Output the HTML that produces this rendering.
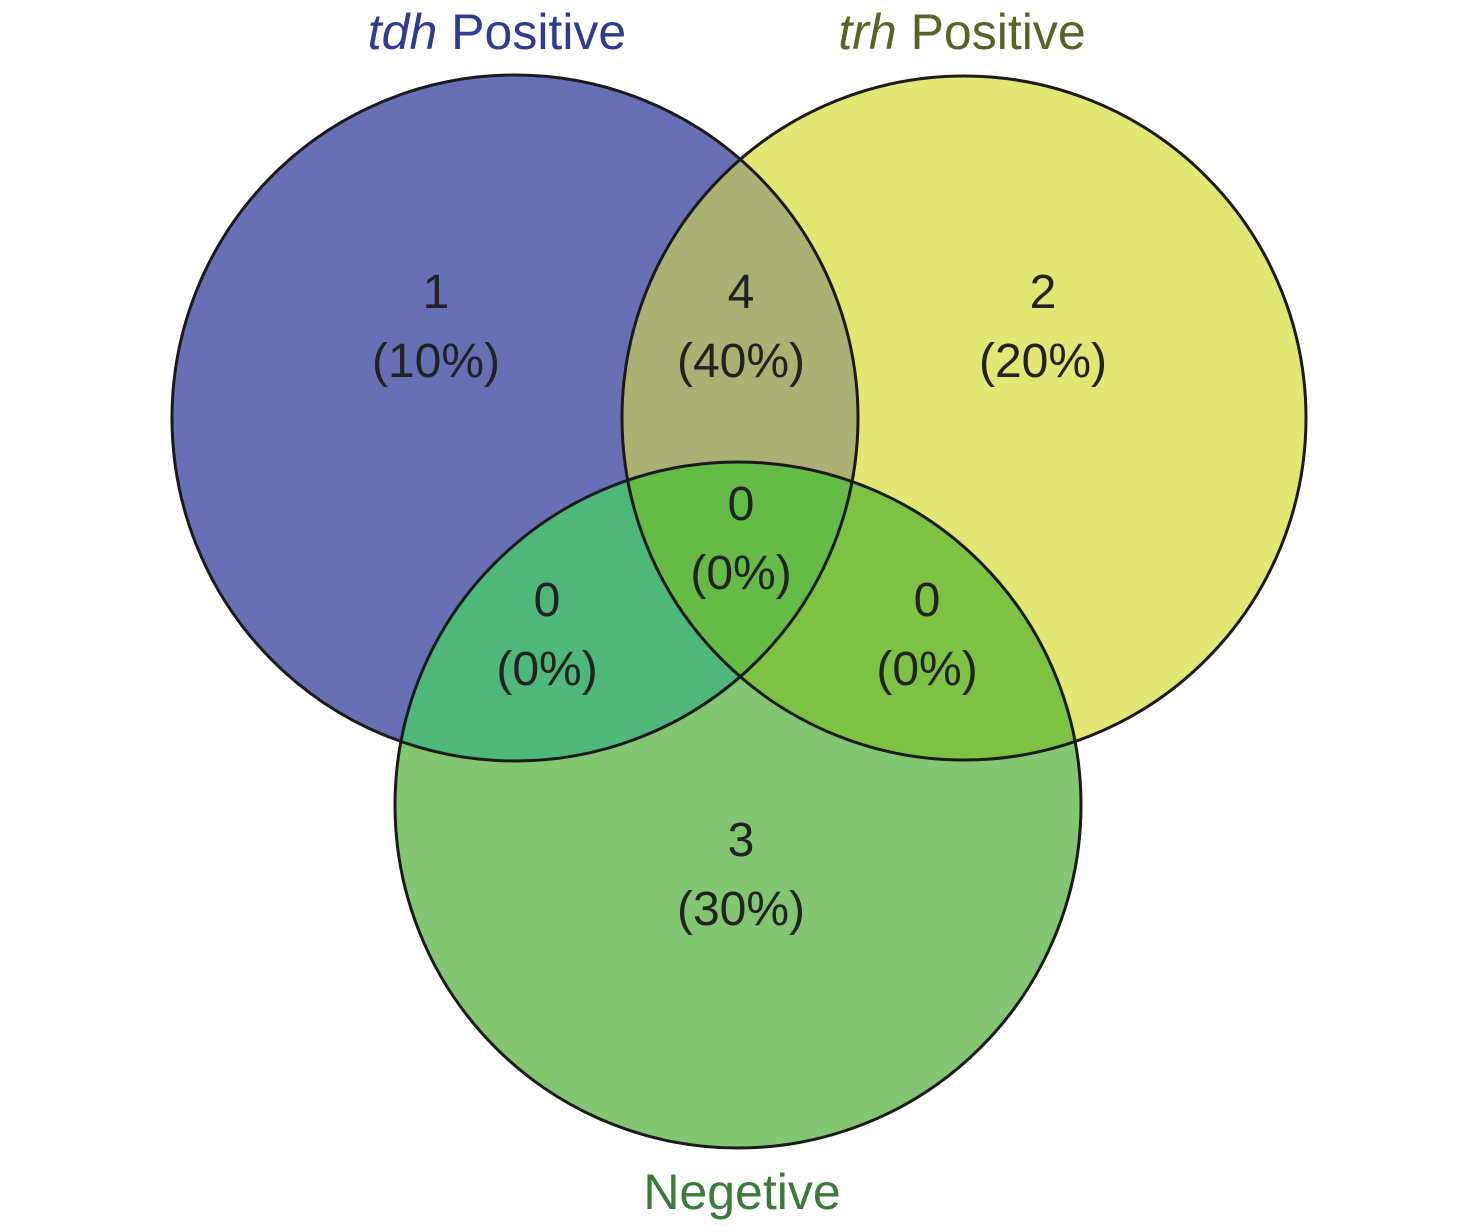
<!DOCTYPE html>
<html><head><style>html,body{margin:0;padding:0;background:#fff;}svg{display:block}</style></head>
<body>
<svg width="1476" height="1232" viewBox="0 0 1476 1232" xmlns="http://www.w3.org/2000/svg">
<defs>
<clipPath id="cb"><circle cx="515" cy="418" r="343"/></clipPath>
<clipPath id="cy"><circle cx="964" cy="418" r="342"/></clipPath>
<clipPath id="cg"><circle cx="738" cy="805" r="343"/></clipPath>
</defs>
<circle cx="515" cy="418" r="343" fill="#6770b5"/>
<circle cx="964" cy="418" r="342" fill="#e2e673"/>
<circle cx="738" cy="805" r="343" fill="#82c671"/>
<g clip-path="url(#cy)"><circle cx="515" cy="418" r="343" fill="#aab173"/></g>
<g clip-path="url(#cg)"><circle cx="515" cy="418" r="343" fill="#4db87a"/></g>
<g clip-path="url(#cg)"><circle cx="964" cy="418" r="342" fill="#7dc242"/></g>
<g clip-path="url(#cg)"><g clip-path="url(#cy)"><circle cx="515" cy="418" r="343" fill="#64bb46"/></g></g>
<g fill="none" stroke="#1a1a1a" stroke-width="3">
<circle cx="515" cy="418" r="343"/>
<circle cx="964" cy="418" r="342"/>
<circle cx="738" cy="805" r="343"/>
</g>
<g font-family="Liberation Sans, sans-serif" font-size="48" fill="#222" text-anchor="middle">
<text x="436" y="308">1</text><text x="436" y="377">(10%)</text>
<text x="741" y="308">4</text><text x="741" y="377">(40%)</text>
<text x="1043" y="308">2</text><text x="1043" y="377">(20%)</text>
<text x="741" y="520">0</text><text x="741" y="589">(0%)</text>
<text x="547" y="616">0</text><text x="547" y="685">(0%)</text>
<text x="927" y="616">0</text><text x="927" y="685">(0%)</text>
<text x="741" y="856">3</text><text x="741" y="925">(30%)</text>
</g>
<g font-family="Liberation Sans, sans-serif" font-size="50" text-anchor="middle">
<text x="497" y="49" fill="#2f3b8f"><tspan font-style="italic">tdh</tspan> Positive</text>
<text x="962" y="49" fill="#5b6228"><tspan font-style="italic">trh</tspan> Positive</text>
<text x="742" y="1209" fill="#3b7a3b">Negetive</text>
</g>
</svg>
</body></html>
